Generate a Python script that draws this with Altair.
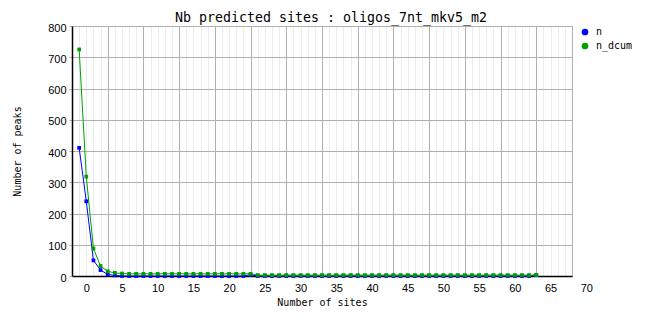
import altair as alt
import pandas as pd

# ---- data ----
nb_sites = list(range(-1, 64))
n_values = ([410, 239, 50, 19, 5, 2, 0, 0]
            + [0] * 16 + [4] + [0] * 39 + [3])
n_dcum_values = ([725, 318, 88, 32, 15, 10, 8, 7]
                 + [7] * 17 + [3] * 40)
series_names = ["n", "n_dcum"]
series_colors = ["#0000ff", "#00a000"]
y_ticks = list(range(0, 801, 100))
x_grid = list(range(-2, 69))

rows = []
for name, vals in zip(series_names, [n_values, n_dcum_values]):
    for x, v in zip(nb_sites, vals):
        rows.append({"sites": x, "peaks": v, "series": name})
df = pd.DataFrame(rows)

MONO = "DejaVu Sans Mono"
SANS = "Liberation Sans"
MAJOR = "#b0b0b0"
MINOR = "#ececec"

x_enc = alt.X(
    "sites:Q",
    scale=alt.Scale(domain=[-2, 68], nice=False, zero=False),
    axis=alt.Axis(
        values=x_grid,
        title="Number of sites",
        titleFont=MONO, titleFontSize=10, titleFontWeight="normal",
        titleX=250, titleY=26, titleBaseline="middle", titleColor="black",
        labelExpr="(datum.value + 2) % 5 === 0 ? '' + (datum.value + 2) : ''",
        labelOffset=14.3,
        labelFont=SANS, labelFontSize=11, labelColor="black",
        labelPadding=6, labelOverlap=False, labelFlush=False, labelBound=False,
        ticks=False,
        domainColor="black", domainWidth=1.5,
        grid=True,
        gridColor={"condition": {"test": "(datum.value + 2) % 5 === 0", "value": MAJOR}, "value": MINOR},
        gridWidth=1,
    ),
)
y_enc = alt.Y(
    "peaks:Q",
    scale=alt.Scale(domain=[0, 800], nice=False),
    axis=alt.Axis(
        values=y_ticks,
        title="Number of peaks",
        titleFont=MONO, titleFontSize=10, titleFontWeight="normal",
        titleX=-55, titleY=125, titleAngle=-90, titleAlign="center",
        titleBaseline="middle", titleColor="black",
        labelFont=SANS, labelFontSize=11, labelColor="black",
        labelPadding=3, labelOffset=2,
        tickColor=MAJOR, tickSize=3,
        domainColor="black", domainWidth=1.5,
        gridColor=MAJOR, gridWidth=1,
    ),
)
color_enc = alt.Color(
    "series:N",
    scale=alt.Scale(domain=series_names, range=series_colors),
    legend=alt.Legend(
        title=None, orient="none", legendX=508, legendY=1,
        symbolType="circle", symbolSize=45, symbolStrokeWidth=0,
        labelFont=MONO, labelFontSize=10, labelColor="black",
        rowPadding=4, padding=0, labelOffset=6,
    ),
)

base = alt.Chart(df)
lines = base.mark_line(strokeWidth=1).encode(x=x_enc, y=y_enc, color=color_enc, order="sites:Q")
points = base.mark_square(size=14, opacity=1, filled=True).encode(x=x_enc, y=y_enc, color=color_enc)

chart = (
    alt.layer(lines, points)
    .properties(
        width=500, height=250,
        title=alt.TitleParams(
            "Nb predicted sites : oligos_7nt_mkv5_m2",
            font=MONO, fontSize=13.3, fontWeight="normal", color="black",
            anchor="middle", dx=9, dy=21, offset=5, baseline="bottom",
        ),
        autosize=alt.AutoSizeParams(type="none"),
        padding={"left": 72, "top": 26, "right": 90, "bottom": 52},
        background="white",
    )
    .configure_view(stroke=MAJOR, strokeWidth=1)
)

chart.save("out.html", embed_options={"renderer": "svg", "actions": False})
